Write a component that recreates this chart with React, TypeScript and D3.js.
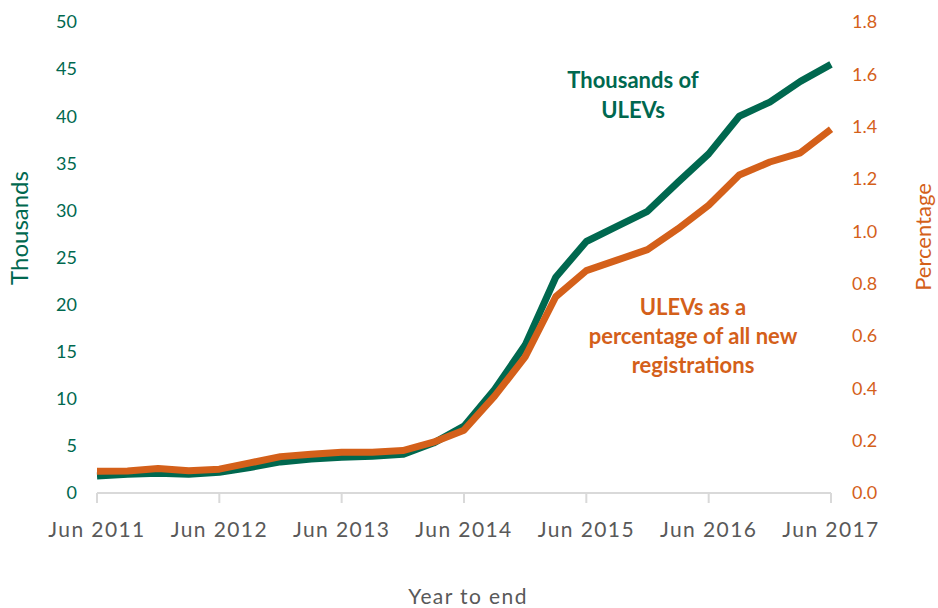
import React from "react";
import * as d3 from "d3";

// quarterly, year to end
const quarters = [
  "Jun 2011", "Sep 2011", "Dec 2011", "Mar 2012",
  "Jun 2012", "Sep 2012", "Dec 2012", "Mar 2013",
  "Jun 2013", "Sep 2013", "Dec 2013", "Mar 2014",
  "Jun 2014", "Sep 2014", "Dec 2014", "Mar 2015",
  "Jun 2015", "Sep 2015", "Dec 2015", "Mar 2016",
  "Jun 2016", "Sep 2016", "Dec 2016", "Mar 2017",
  "Jun 2017",
];
const xTickLabels = ["Jun 2011", "Jun 2012", "Jun 2013", "Jun 2014", "Jun 2015", "Jun 2016", "Jun 2017"];

const thousands = [
  1.8, 2.0, 2.1, 2.0, 2.2, 2.7, 3.3, 3.6, 3.8, 3.9, 4.1, 5.3, 7.1,
  11.0, 15.7, 22.9, 26.7, 28.3, 29.9, 33.0, 36.0, 40.0, 41.5, 43.7, 45.5,
];
const percentage = [
  0.083, 0.084, 0.094, 0.085, 0.091, 0.115, 0.139, 0.148, 0.156, 0.156, 0.162, 0.194, 0.24,
  0.37, 0.52, 0.75, 0.85, 0.89, 0.93, 1.01, 1.10, 1.215, 1.265, 1.30, 1.39,
];

const leftTicks = [0, 5, 10, 15, 20, 25, 30, 35, 40, 45, 50];
const rightTicks = [0, 0.2, 0.4, 0.6, 0.8, 1.0, 1.2, 1.4, 1.6, 1.8];

const green = "#00684F";
const orange = "#D4601A";
const grey = "#595959";
const font = "Lato, 'Open Sans', sans-serif";

const left = 97, right = 831, top = 22, bottom = 493;

export default function App() {
  const x = d3.scalePoint<string>().domain(quarters).range([left, right]);
  const yL = d3.scaleLinear().domain([0, 50]).range([bottom, top]);
  const yR = d3.scaleLinear().domain([0, 1.8]).range([bottom, top]);

  const greenLine = d3.line<number>()
    .x((d, i) => x(quarters[i]) as number)
    .y(d => yL(d));
  const orangeLine = d3.line<number>()
    .x((d, i) => x(quarters[i]) as number)
    .y(d => yR(d));

  return (
    <svg width={938} height={608} style={{ position: "absolute", left: 0, top: 0, background: "#fff" }}>
      {/* x axis */}
      <line x1={left} x2={right} y1={bottom} y2={bottom} stroke="#d9d9d9" strokeWidth={2} />
      {xTickLabels.map(t => (
        <g key={t} transform={`translate(${x(t)},0)`}>
          <line y1={bottom} y2={bottom + 10} stroke="#d9d9d9" strokeWidth={2} />
          <text y={537} textAnchor="middle" fill={grey} fontSize={21} fontFamily={font} letterSpacing={1.4}>{t}</text>
        </g>
      ))}

      {/* left axis */}
      {leftTicks.map(t => (
        <text key={t} x={77} y={yL(t)} dy="0.35em" textAnchor="end" fill={green} fontSize={18} fontFamily={font}>{t}</text>
      ))}
      {/* right axis */}
      {rightTicks.map(t => (
        <text key={t} x={852} y={yR(t)} dy="0.35em" textAnchor="start" fill={orange} fontSize={18} fontFamily={font}>{t.toFixed(1)}</text>
      ))}

      <text transform="translate(28,228) rotate(-90)" textAnchor="middle" fill={green} fontSize={24} fontFamily={font}>Thousands</text>
      <text transform="translate(931,237) rotate(-90)" textAnchor="middle" fill={orange} fontSize={22} fontFamily={font}>Percentage</text>
      <text x={468} y={604} textAnchor="middle" fill={grey} fontSize={21} fontFamily={font} letterSpacing={1.4}>Year to end</text>

      {/* series */}
      <path d={greenLine(thousands) || ""} fill="none" stroke={green} strokeWidth={7} strokeLinejoin="round" />
      <path d={orangeLine(percentage) || ""} fill="none" stroke={orange} strokeWidth={7} strokeLinejoin="round" />

      {/* annotations */}
      <text textAnchor="middle" fill={green} fontSize={22} fontWeight="bold" fontFamily={font}>
        <tspan x={633} y={88}>Thousands of</tspan>
        <tspan x={633} y={118}>ULEVs</tspan>
      </text>
      <text textAnchor="middle" fill={orange} fontSize={22} fontWeight="bold" fontFamily={font}>
        <tspan x={693} y={315}>ULEVs as a</tspan>
        <tspan x={693} y={344}>percentage of all new</tspan>
        <tspan x={693} y={373}>registrations</tspan>
      </text>
    </svg>
  );
}
